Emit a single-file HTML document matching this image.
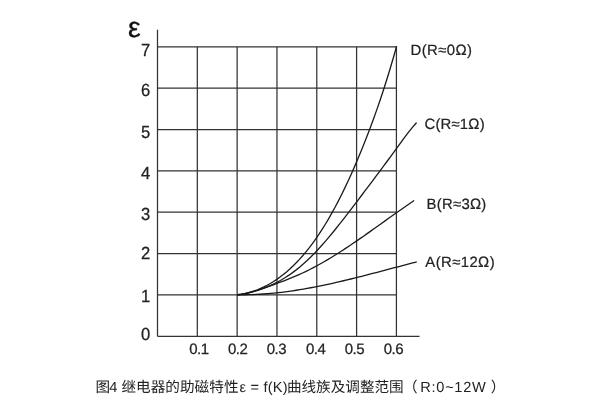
<!DOCTYPE html>
<html lang="zh-CN"><head><meta charset="utf-8"><title>图4 继电器的助磁特性</title>
<style>
html,body{margin:0;padding:0;background:#fff;}
body{width:600px;height:400px;overflow:hidden;}
svg{display:block;will-change:transform;}
text{font-family:"Liberation Sans","Noto Sans CJK SC",sans-serif;fill:#222;text-rendering:geometricPrecision;}
.g line{stroke:#333;stroke-width:1.25;}
.c path{fill:none;stroke:#1a1a1a;stroke-width:1.3;stroke-linejoin:round;stroke-linecap:round;}
.n text{font-size:16.6px;stroke:#222;stroke-width:0.25px;}
.n .x{font-size:15px;letter-spacing:-0.5px;}
.l text{font-size:14.9px;stroke:#222;stroke-width:0.2px;}
.cap text{font-size:14.6px;}
</style></head><body>
<svg width="600" height="400" viewBox="0 0 600 400">
<rect width="600" height="400" fill="#fff"/>
<g class="g"><line x1="157.5" y1="294.94" x2="396.42" y2="294.94"/><line x1="157.5" y1="253.58" x2="396.42" y2="253.58"/><line x1="157.5" y1="212.22" x2="396.42" y2="212.22"/><line x1="157.5" y1="170.86" x2="396.42" y2="170.86"/><line x1="157.5" y1="129.50" x2="396.42" y2="129.50"/><line x1="157.5" y1="88.14" x2="396.42" y2="88.14"/><line x1="157.5" y1="46.78" x2="396.42" y2="46.78"/><line x1="197.32" y1="46.78" x2="197.32" y2="336.3"/><line x1="237.14" y1="46.78" x2="237.14" y2="336.3"/><line x1="276.96" y1="46.78" x2="276.96" y2="336.3"/><line x1="316.78" y1="46.78" x2="316.78" y2="336.3"/><line x1="356.60" y1="46.78" x2="356.60" y2="336.3"/><line x1="396.42" y1="46.78" x2="396.42" y2="336.3"/><line x1="157.5" y1="29.8" x2="157.5" y2="336.3"/><line x1="157.5" y1="336.3" x2="419.5" y2="336.3"/></g>
<g class="c"><path d="M238.00,294.76 L241.23,294.26 L244.47,293.62 L247.70,292.86 L250.94,291.96 L254.17,290.92 L257.41,289.74 L260.64,288.41 L263.88,286.93 L267.11,285.29 L270.35,283.49 L273.58,281.53 L276.82,279.39 L280.05,277.09 L283.29,274.60 L286.52,271.94 L289.76,269.08 L292.99,266.04 L296.22,262.81 L299.46,259.37 L302.69,255.73 L305.93,251.89 L309.16,247.83 L312.40,243.56 L315.63,239.07 L318.87,234.36 L322.10,229.41 L325.34,224.24 L328.57,218.83 L331.81,213.17 L335.04,207.27 L338.28,201.13 L341.51,194.75 L344.74,188.12 L347.98,181.27 L351.21,174.19 L354.45,166.88 L357.68,159.34 L360.92,151.57 L364.15,143.56 L367.39,135.30 L370.62,126.77 L373.86,117.98 L377.09,108.89 L380.33,99.47 L383.56,89.70 L386.80,79.56 L390.03,69.01 L393.27,58.04 L396.50,46.61"/><path d="M238.00,294.76 L241.64,294.20 L245.28,293.53 L248.91,292.75 L252.55,291.84 L256.19,290.82 L259.83,289.67 L263.46,288.38 L267.10,286.95 L270.74,285.38 L274.38,283.66 L278.02,281.78 L281.65,279.74 L285.29,277.54 L288.93,275.16 L292.57,272.61 L296.20,269.87 L299.84,266.95 L303.48,263.84 L307.12,260.53 L310.76,257.03 L314.39,253.34 L318.03,249.50 L321.67,245.50 L325.31,241.36 L328.94,237.09 L332.58,232.71 L336.22,228.24 L339.86,223.68 L343.49,219.04 L347.13,214.35 L350.77,209.60 L354.41,204.83 L358.05,200.04 L361.68,195.24 L365.32,190.43 L368.96,185.60 L372.60,180.77 L376.23,175.92 L379.87,171.05 L383.51,166.15 L387.15,161.24 L390.79,156.29 L394.42,151.32 L398.06,146.31 L401.70,141.31 L405.34,136.39 L408.97,131.64 L412.61,127.15 L416.25,123.00"/><path d="M238.00,294.76 L241.59,294.29 L245.17,293.62 L248.76,292.80 L252.35,291.83 L255.93,290.75 L259.52,289.59 L263.11,288.36 L266.69,287.10 L270.28,285.82 L273.87,284.53 L277.45,283.23 L281.04,281.90 L284.63,280.54 L288.21,279.14 L291.80,277.69 L295.39,276.19 L298.97,274.63 L302.56,273.01 L306.15,271.31 L309.73,269.54 L313.32,267.69 L316.91,265.78 L320.49,263.79 L324.08,261.75 L327.67,259.65 L331.26,257.49 L334.84,255.28 L338.43,253.02 L342.02,250.72 L345.60,248.37 L349.19,245.99 L352.78,243.57 L356.36,241.13 L359.95,238.66 L363.54,236.16 L367.12,233.65 L370.71,231.11 L374.30,228.57 L377.88,226.02 L381.47,223.46 L385.06,220.90 L388.64,218.34 L392.23,215.79 L395.82,213.25 L399.40,210.71 L402.99,208.20 L406.58,205.70 L410.16,203.23 L413.75,200.79"/><path d="M238.00,294.75 L241.64,294.78 L245.28,294.76 L248.91,294.70 L252.55,294.60 L256.19,294.45 L259.83,294.26 L263.46,294.02 L267.10,293.75 L270.74,293.44 L274.38,293.09 L278.02,292.70 L281.65,292.28 L285.29,291.82 L288.93,291.33 L292.57,290.81 L296.20,290.25 L299.84,289.67 L303.48,289.06 L307.12,288.42 L310.76,287.75 L314.39,287.06 L318.03,286.34 L321.67,285.60 L325.31,284.84 L328.94,284.06 L332.58,283.26 L336.22,282.44 L339.86,281.60 L343.49,280.75 L347.13,279.88 L350.77,279.00 L354.41,278.10 L358.05,277.19 L361.68,276.27 L365.32,275.35 L368.96,274.41 L372.60,273.47 L376.23,272.52 L379.87,271.56 L383.51,270.61 L387.15,269.65 L390.79,268.68 L394.42,267.72 L398.06,266.76 L401.70,265.80 L405.34,264.84 L408.97,263.89 L412.61,262.95 L416.25,262.01"/></g>
<g class="n"><text transform="translate(150.3,55.5) scale(1,1.06)" text-anchor="end">7</text><text transform="translate(150.3,96.25) scale(1,1.06)" text-anchor="end">6</text><text transform="translate(150.3,137.5) scale(1,1.06)" text-anchor="end">5</text><text transform="translate(150.3,178.5) scale(1,1.06)" text-anchor="end">4</text><text transform="translate(150.3,220) scale(1,1.06)" text-anchor="end">3</text><text transform="translate(150.3,258.75) scale(1,1.06)" text-anchor="end">2</text><text transform="translate(150.3,302) scale(1,1.06)" text-anchor="end">1</text><text transform="translate(150.3,340) scale(1,1.06)" text-anchor="end">0</text><text x="189.20" y="353.7" class="x">0.1</text><text x="227.95" y="353.7" class="x">0.2</text><text x="266.70" y="353.7" class="x">0.3</text><text x="305.95" y="353.7" class="x">0.4</text><text x="344.70" y="353.7" class="x">0.5</text><text x="383.70" y="353.7" class="x">0.6</text></g>
<text x="128.1" y="37.4" font-size="28.4" style="fill:#111;stroke:#111;stroke-width:0.35">ε</text>
<g class="l">
<text x="410.5" y="54.7" textLength="61.4">D(R≈0Ω)</text>
<text x="424.5" y="129" textLength="60.1">C(R≈1Ω)</text>
<text x="426.5" y="208.8" textLength="59.8">B(R≈3Ω)</text>
<text x="425.3" y="267.2" textLength="69.3">A(R≈12Ω)</text>
</g>
<g class="cap">
<text x="95.6" y="391.6">图</text><text x="109.2" y="391.6">4</text>
<text x="121.4" y="391.6" textLength="117.1">继电器的助磁特性</text>
<text x="239.6" y="391.6" textLength="48">ε = f(K)</text>
<text x="286.9" y="391.6" textLength="116.8">曲线族及调整范围</text>
<text x="402.9" y="391.6">（</text>
<text x="420.3" y="391.6" textLength="65.5">R:0~12W</text>
<text x="490.8" y="391.6">）</text>
</g>
</svg>
</body></html>
